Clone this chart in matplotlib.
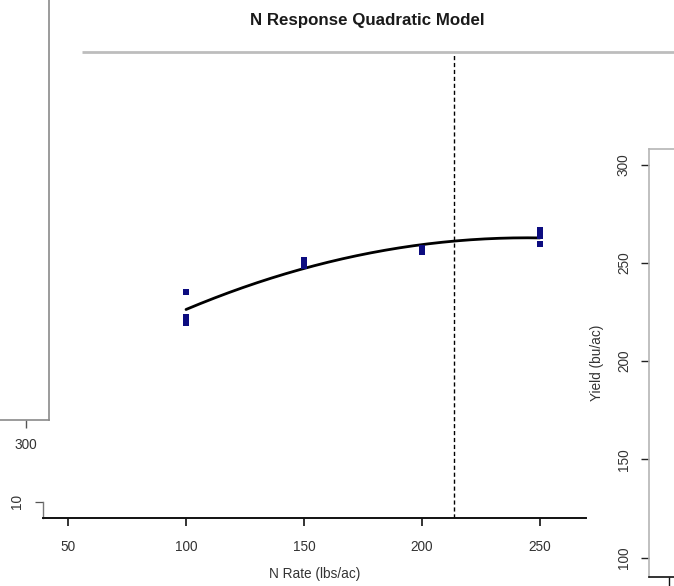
import numpy as np
import matplotlib
matplotlib.use("Agg")
import matplotlib.pyplot as plt

plt.rcParams['font.family'] = ['Liberation Sans', 'DejaVu Sans']

# Observed yields by nitrogen rate
n_rate = [100, 100, 100, 150, 150, 200, 200, 250, 250, 250]
yield_bu = [235.2, 222.5, 219.5, 251.5, 248.5, 257.6, 255.6, 266.8, 263.7, 259.7]

x_ticks = [50, 100, 150, 200, 250]
y_ticks = [100, 150, 200, 250, 300]
optimum_rate = 213.4

title = "N Response Quadratic Model"
x_label = "N Rate (lbs/ac)"
y_label = "Yield (bu/ac)"

W, H = 674, 586
fig = plt.figure(figsize=(W / 100, H / 100), dpi=100)
fig.patch.set_facecolor("white")


def rect(l, t, r, b):
    return [l / W, 1 - b / H, (r - l) / W, (b - t) / H]


text_c = "#333333"
fs = 9.8

# quadratic fit of yield on N rate
coef = np.polyfit(n_rate, yield_bu, 2)
xs = np.linspace(min(n_rate), max(n_rate), 200)
ys = np.polyval(coef, xs)

# main panel
ax = fig.add_axes(rect(43, 55, 586, 518))
ax.set_xlim(39.4, 269.5)
ax.set_ylim(120.2, 355.9)
ax.patch.set_alpha(0)
for s in ["top", "right"]:
    ax.spines[s].set_visible(False)
ax.spines["bottom"].set_linewidth(1.4)
ax.spines["bottom"].set_color("#111111")
ax.spines["left"].set_color("#777777")
ax.spines["left"].set_linewidth(1.0)
ax.spines["left"].set_bounds(120.2, 128.4)
ax.set_xticks(x_ticks)
ax.set_xticklabels([str(v) for v in x_ticks])
ax.set_yticks([128.4])
ax.set_yticklabels(["10"], rotation=90, va="center")
ax.tick_params(axis="x", length=6, width=1.2, color="#111111", pad=10,
               labelsize=fs, labelcolor=text_c)
ax.tick_params(axis="y", length=6, width=0.9, color="#555555", pad=8,
               labelsize=fs, labelcolor=text_c)
ax.set_xlabel(x_label, fontsize=fs, color=text_c, labelpad=9)

ax.plot(xs, ys, color="black", lw=2.0, solid_capstyle="round", zorder=3)
ax.plot(n_rate, yield_bu, ls="none", marker="s", ms=4.6, mew=0,
        color="#0c0c80", zorder=4)
ax.axvline(optimum_rate, color="black", lw=1.0, ls=(0, (3, 2)), zorder=2)

# right-hand yield axis
axr = fig.add_axes(rect(649, 149, 720, 577))
axr.set_ylim(90.2, 308.0)
axr.set_xlim(0, 10)
axr.patch.set_alpha(0)
axr.spines["right"].set_visible(False)
for s in ["left", "top"]:
    axr.spines[s].set_color("#b5b5b5")
    axr.spines[s].set_linewidth(1.2)
axr.spines["bottom"].set_color("#111111")
axr.spines["bottom"].set_linewidth(1.2)
axr.set_yticks(y_ticks)
axr.set_yticklabels([str(v) for v in y_ticks], rotation=90, va="center")
axr.tick_params(axis="y", length=6, width=1.0, color="#222222", pad=7,
                labelsize=fs, labelcolor=text_c)
axr.set_xticks([2.8])
axr.set_xticklabels([""])
axr.tick_params(axis="x", length=7, width=1.0, color="#111111")
axr.set_ylabel(y_label, fontsize=fs, color=text_c, labelpad=9)

# left partial panel
axl = fig.add_axes(rect(-60, -20, 49, 420))
axl.set_xlim(260.6, 310.6)
axl.set_ylim(0, 1)
axl.patch.set_alpha(0)
for s in ["top", "left"]:
    axl.spines[s].set_visible(False)
for s in ["right", "bottom"]:
    axl.spines[s].set_color("#8a8a8a")
    axl.spines[s].set_linewidth(1.2)
axl.set_yticks([])
axl.set_xticks([300])
axl.set_xticklabels(["300"])
axl.tick_params(axis="x", length=6, width=1.0, color="#555555", pad=7,
                labelsize=fs, labelcolor=text_c)

# top frame line and title
top = fig.add_axes([0, 0, 1, 1])
top.set_xlim(0, W)
top.set_ylim(H, 0)
top.axis("off")
top.patch.set_alpha(0)
top.plot([82, W], [52, 52], color="#bdbdbd", lw=2.0, solid_capstyle="butt")
top.text(367, 20, title, ha="center", va="center", fontsize=12.2,
         fontweight="bold", color="#1a1a1a")

fig.savefig("out.png", dpi=100, facecolor="white")
